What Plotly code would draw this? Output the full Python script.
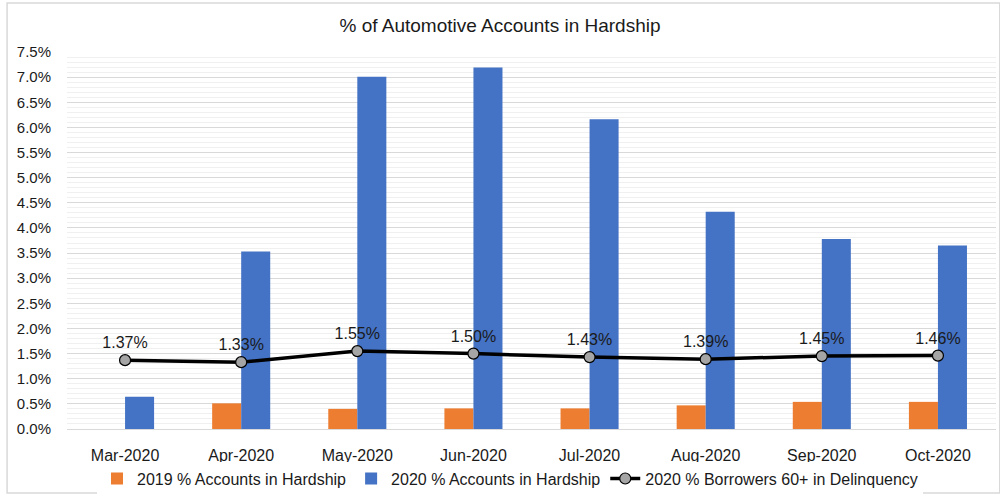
import plotly.graph_objects as go

months = ["Mar-2020", "Apr-2020", "May-2020", "Jun-2020",
          "Jul-2020", "Aug-2020", "Sep-2020", "Oct-2020"]
hardship_2019 = [None, 0.0051, 0.0040, 0.0041, 0.0041, 0.0047, 0.0054, 0.0054]
hardship_2020 = [0.0064, 0.0353, 0.0701, 0.0719, 0.0616, 0.0432, 0.0378, 0.0365]
delinquency_60 = [0.0137, 0.0133, 0.0155, 0.0150, 0.0143, 0.0139, 0.0145, 0.0146]
y_ticks = [i * 0.005 for i in range(16)]

FONT = "Liberation Sans, Arial, sans-serif"
TEXT = "#1a1a1a"

fig = go.Figure()
fig.add_trace(go.Bar(
    x=months, y=hardship_2019, name="2019 % Accounts in Hardship",
    marker=dict(color="#ED7D31", line=dict(width=0)),
))
fig.add_trace(go.Bar(
    x=months, y=hardship_2020, name="2020 % Accounts in Hardship",
    marker=dict(color="#4472C4", line=dict(width=0)),
))
fig.add_trace(go.Scatter(
    x=months, y=delinquency_60, name="2020 % Borrowers 60+ in Delinquency",
    mode="lines+markers+text",
    line=dict(color="#000000", width=3.5),
    marker=dict(symbol="circle", size=11, color="#A5A5A5",
                line=dict(color="#000000", width=1.2)),
    texttemplate="%{y:.2%}", textposition="top center",
    textfont=dict(family=FONT, size=16, color=TEXT),
))

fig.update_layout(
    width=1000, height=497,
    margin=dict(l=67, r=4, t=52, b=68, autoexpand=False),
    paper_bgcolor="white", plot_bgcolor="white",
    font=dict(family=FONT, size=15, color=TEXT),
    title=dict(text="% of Automotive Accounts in Hardship",
               x=0.5, xref="container", xanchor="center",
               y=0.948, yref="container", yanchor="middle",
               font=dict(family=FONT, size=19, color=TEXT)),
    barmode="group", bargap=0.5, bargroupgap=0,
    showlegend=True,
    legend=dict(orientation="h", x=0.51, xref="container", xanchor="center",
                y=0.037, yref="container", yanchor="middle",
                font=dict(family=FONT, size=16, color=TEXT),
                itemwidth=30, traceorder="normal"),
    shapes=[dict(type="rect", xref="paper", yref="paper",
                 x0=-0.0645, x1=1.004, y0=-0.17, y1=1.13,
                 line=dict(color="#D9D9D9", width=1.5), layer="below")],
)
fig.update_xaxes(
    showgrid=False, showline=True, linecolor="#D9D9D9", linewidth=1,
    ticks="", tickfont=dict(size=16, color=TEXT), ticklabelstandoff=12,
    automargin=False,
)
fig.update_yaxes(
    range=[0, 0.075], tickvals=y_ticks, tickformat=".1%",
    showgrid=True, gridcolor="#D9D9D9", gridwidth=1,
    minor=dict(dtick=0.001, showgrid=True, gridcolor="#F0F0F0", gridwidth=1),
    zeroline=False, showline=False, ticks="",
    tickfont=dict(size=15, color=TEXT), ticklabelstandoff=15,
    automargin=False,
)

fig.write_html("out.html")
